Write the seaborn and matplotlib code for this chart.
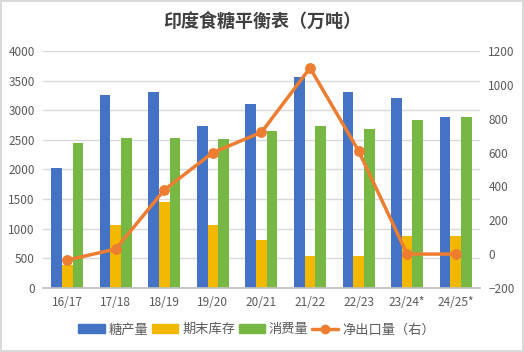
import pandas as pd
import numpy as np
import seaborn as sns
import matplotlib.pyplot as plt
from matplotlib.patches import Patch
from matplotlib.lines import Line2D

# 数据（万吨）
seasons = ['16/17', '17/18', '18/19', '19/20', '20/21', '21/22', '22/23', '23/24*', '24/25*']
production = [2030, 3250, 3310, 2740, 3110, 3570, 3300, 3200, 2890]
ending_stock = [390, 1065, 1450, 1060, 810, 540, 540, 880, 880]
consumption = [2450, 2540, 2540, 2520, 2650, 2740, 2690, 2840, 2890]
net_export = [-35, 30, 380, 600, 720, 1100, 610, 0, 0]

series_names = ['糖产量', '期末库存', '消费量']
line_name = '净出口量（右）'

c_blue = '#4472C4'
c_gold = '#F2B800'
c_green = '#76B843'
c_orange = '#ED7D31'
c_text = '#595959'

sns.set_theme(style='white')
plt.rcParams['font.family'] = ['Noto Sans CJK SC', 'DejaVu Sans']

df = pd.DataFrame({'季度': seasons * 3,
                   '值': production + ending_stock + consumption,
                   '项目': [n for n in series_names for _ in seasons]})
df_line = pd.DataFrame({'季度': seasons, '净出口': net_export})

fig = plt.figure(figsize=(5.24, 3.52), dpi=100)
fig.patch.set_edgecolor('#D9D9D9')
fig.patch.set_linewidth(1.5)
ax = fig.add_axes([0.082, 0.182, 0.834, 0.673])

sns.barplot(data=df, x='季度', y='值', hue='项目', order=seasons,
            hue_order=series_names, palette=[c_blue, c_gold, c_green],
            width=0.66, saturation=1, linewidth=0, ax=ax, legend=False)
ax.set_ylim(0, 4000)
ax.set_yticks(np.arange(0, 4001, 500))
ax.yaxis.grid(True, color='#D9D9D9', linewidth=1)
ax.set_axisbelow(True)
ax.set_xlabel('')
ax.set_ylabel('')
for s in ['top', 'right', 'left']:
    ax.spines[s].set_visible(False)
ax.spines['bottom'].set_color('#BFBFBF')
ax.tick_params(axis='both', length=0, labelsize=8.5, labelcolor=c_text, pad=6)
ax.set_xlim(-0.5, len(seasons) - 0.5)

ax2 = ax.twinx()
sns.lineplot(data=df_line, x='季度', y='净出口', color=c_orange, linewidth=2.5,
             marker='o', markersize=7, markeredgecolor=c_orange, ax=ax2)
ax2.set_ylim(-200, 1200)
ax2.set_yticks(np.arange(-200, 1201, 200))
ax2.set_ylabel('')
for s in ['top', 'right', 'left', 'bottom']:
    ax2.spines[s].set_visible(False)
ax2.tick_params(axis='y', length=0, labelsize=8.5, labelcolor=c_text, pad=6)
ax2.set_xlim(-0.5, len(seasons) - 0.5)

fig.suptitle('印度食糖平衡表（万吨）', y=0.965, fontsize=13, fontweight='bold',
             color='#404040')

handles = [Patch(color=c_blue), Patch(color=c_gold), Patch(color=c_green),
           Line2D([], [], color=c_orange, linewidth=2.5, marker='o', markersize=6)]
fig.legend(handles, series_names + [line_name], loc='center', ncol=4,
           bbox_to_anchor=(0.49, 0.063), frameon=False, fontsize=9.5,
           handlelength=2.0, handleheight=0.6, handletextpad=0.3,
           columnspacing=0.25, labelcolor=c_text)

fig.savefig('out.png', dpi=100)
